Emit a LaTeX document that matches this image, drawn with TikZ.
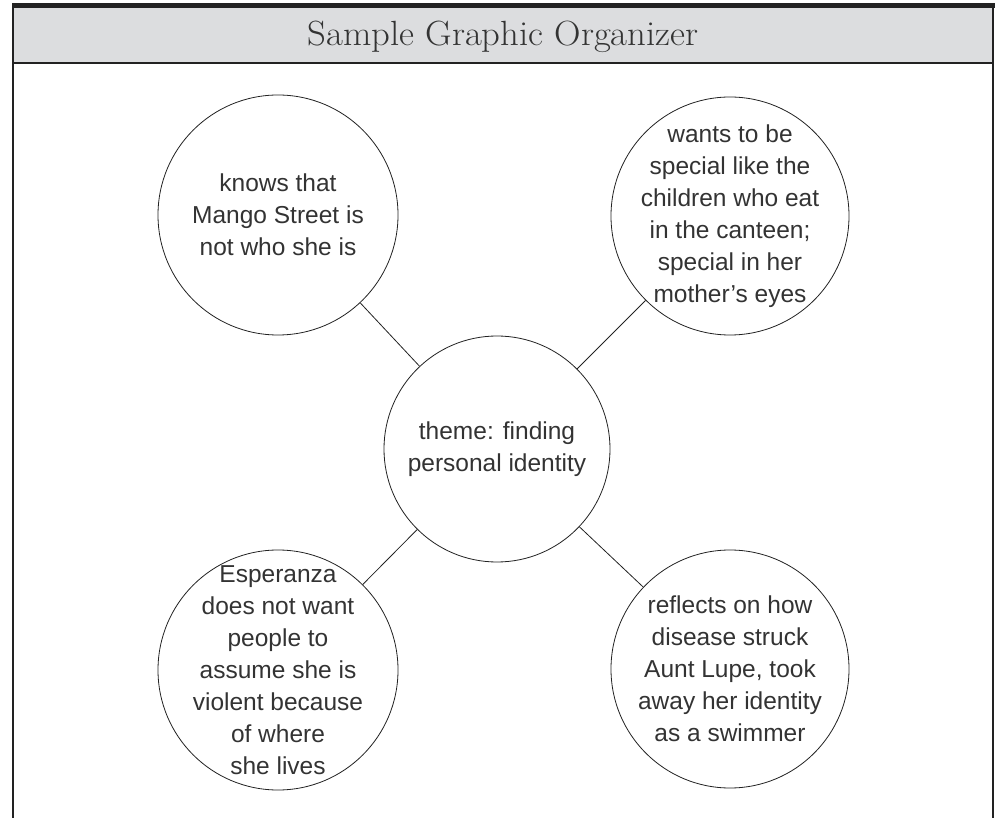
\documentclass[tikz,border=0pt]{standalone}
\usepackage{fontspec}
\usepackage{graphicx}
\newfontfamily\handfont{Liberation Sans}
\definecolor{hdrgray}{HTML}{DCDDDF}
\definecolor{inkgray}{HTML}{333333}
\definecolor{framedark}{HTML}{222222}
\tikzset{
  bubble/.style={circle, draw=framedark, line width=0.8pt, inner sep=0pt, fill=white},
  bubbletext/.style={align=center, text=inkgray, inner sep=0pt, font=\handfont\fontsize{24.5}{32}\selectfont},
  link/.style={draw=framedark, line width=0.8pt},
  frameline/.style={draw=framedark, line width=2pt}
}
\begin{document}
\begin{tikzpicture}[x=1pt,y=-1pt]
\useasboundingbox (0,0) rectangle (997,818);
% header
\fill[hdrgray] (13,8) rectangle (993,63);
\draw[draw=framedark, line width=1.2pt] (13,63) -- (993,63);
\fill[framedark] (12,3) rectangle (995,8.5);
\draw[frameline] (13,3) -- (13,818);
\draw[frameline] (993,3) -- (993,818);
\node[text=inkgray, inner sep=0pt, anchor=base] (title) at (503,46)
  {\resizebox{391pt}{\height}{\fontsize{35}{35}\selectfont Sample Graphic Organizer}};
% bubbles
\node[bubble, minimum size=226pt] (c) at (497,449) {};
\node[bubble, minimum size=240pt] (tl) at (278,215) {};
\node[bubble, minimum size=238pt] (tr) at (730,216) {};
\node[bubble, minimum size=240pt] (bl) at (278,670) {};
\node[bubble, minimum size=238pt] (br) at (730,669) {};
% connectors
\draw[link] (c) -- (tl);
\draw[link] (c) -- (tr);
\draw[link] (c) -- (bl);
\draw[link] (c) -- (br);
% texts
\node[bubbletext] (ct) at (c.center) {theme: finding\\personal identity};
\node[bubbletext] (tlt) at (tl.center) {knows that\\Mango Street is\\not who she is};
\node[bubbletext] (trt) at (tr.center) {wants to be\\special like the\\children who eat\\in the canteen;\\special in her\\mother’s eyes};
\node[bubbletext] (blt) at (bl.center) {Esperanza\\does not want\\people to\\assume she is\\violent because\\of where\\she lives};
\node[bubbletext] (brt) at (br.center) {reflects on how\\disease struck\\Aunt Lupe, took\\away her identity\\as a swimmer};
\end{tikzpicture}
\end{document}
